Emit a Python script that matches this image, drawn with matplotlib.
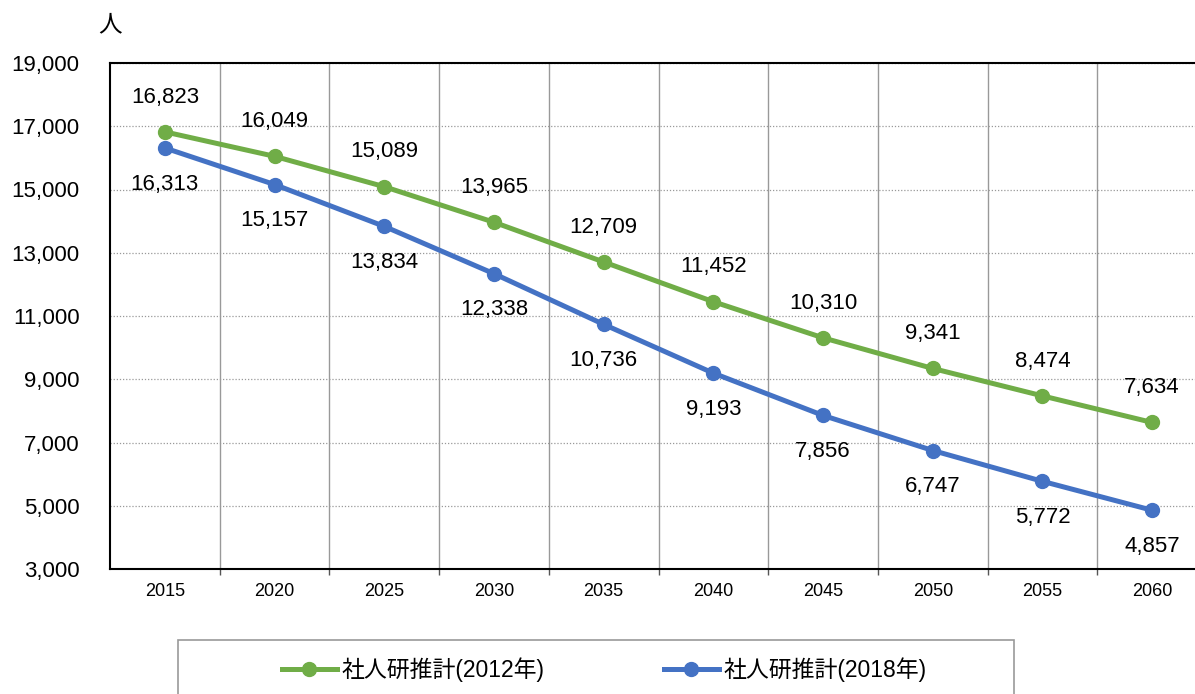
import matplotlib
matplotlib.use("Agg")
import matplotlib.pyplot as plt
from matplotlib.patches import Rectangle
from matplotlib.ticker import FuncFormatter, FixedLocator

plt.rcParams['font.family'] = ['Liberation Sans', 'Noto Sans CJK JP', 'DejaVu Sans']

years = ["2015", "2020", "2025", "2030", "2035", "2040", "2045", "2050", "2055", "2060"]
est_2012 = [16823, 16049, 15089, 13965, 12709, 11452, 10310, 9341, 8474, 7634]
est_2018 = [16313, 15157, 13834, 12338, 10736, 9193, 7856, 6747, 5772, 4857]
series_names = ["社人研推計(2012年)", "社人研推計(2018年)"]
unit_label = "人"

W, H = 1195, 694
fig = plt.figure(figsize=(W / 100, H / 100), dpi=100)
left_px, right_px, top_px, bot_px = 110, 1207, 63, 569
ax = fig.add_axes([left_px / W, 1 - bot_px / H, (right_px - left_px) / W, (bot_px - top_px) / H])

x = list(range(len(years)))
green = "#70AD47"
blue = "#4472C4"
ax.plot(x, est_2012, color=green, lw=3.6, marker='o', ms=10, label=series_names[0], zorder=4)
ax.plot(x, est_2018, color=blue, lw=3.6, marker='o', ms=10, label=series_names[1], zorder=4)

for xi, v in zip(x, est_2012):
    ax.annotate(f"{v:,}", (xi, v), xytext=(0, 25), textcoords='offset points',
                ha='center', va='center', fontsize=16, color='black')
for xi, v in zip(x, est_2018):
    ax.annotate(f"{v:,}", (xi, v), xytext=(0, -26), textcoords='offset points',
                ha='center', va='center', fontsize=16, color='black')

ax.set_xlim(-0.5, len(years) - 0.5)
ax.set_ylim(3000, 19000)
ax.set_yticks(range(3000, 19001, 2000))
ax.yaxis.set_major_formatter(FuncFormatter(lambda v, p: f"{int(v):,}"))
ax.tick_params(axis='y', length=0, labelsize=16, pad=22)
ax.set_xticks(x)
ax.set_xticklabels(years)
ax.tick_params(axis='x', which='major', length=0, labelsize=13, pad=10)
ax.xaxis.set_minor_locator(FixedLocator([i + 0.5 for i in range(len(years) - 1)]))
ax.tick_params(axis='x', which='minor', length=4, width=1, color='#555555', direction='out')

ax.grid(axis='y', which='major', linestyle=(0, (1, 1.5)), color='#999999', lw=0.9)
for i in range(len(years) - 1):
    ax.axvline(i + 0.5, color='#999999', lw=1.0, zorder=1)

for s in ['left', 'top', 'bottom']:
    ax.spines[s].set_color('black')
    ax.spines[s].set_linewidth(1.5)
ax.spines['right'].set_visible(False)

fig.text(110 / W, 1 - 25 / H, unit_label, fontsize=17, ha='center', va='center',
         family=['Noto Sans CJK JP', 'DejaVu Sans'])

fig.patches.append(Rectangle((178 / W, -0.05), (1014 - 178) / W, 0.05 + (1 - 640 / H),
                             transform=fig.transFigure, fill=False, edgecolor='#999999', lw=1.2))
fig.legend(loc='center', bbox_to_anchor=(604 / W, 1 - 670 / H), ncol=2, frameon=False,
           fontsize=16.5, handlelength=2.4, columnspacing=5.2, handletextpad=0.2)

fig.savefig("out.png", dpi=100)
